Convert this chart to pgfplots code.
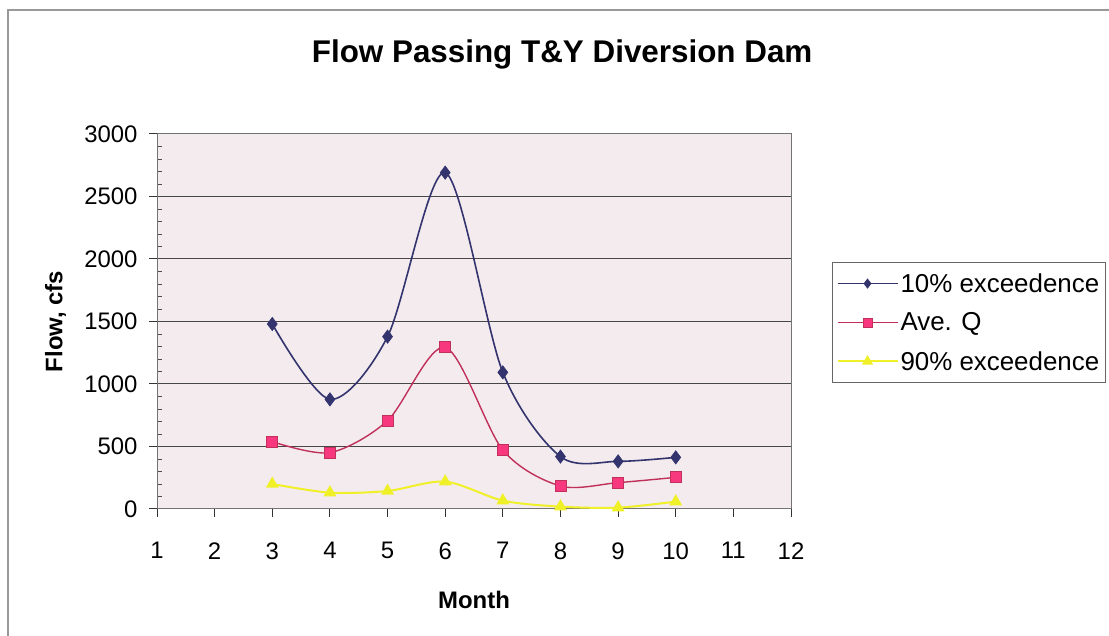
\documentclass[border=0pt]{standalone}
\usepackage{pgfplots}
\pgfplotsset{compat=1.18}
\usepackage{fontspec}
\setmainfont{Liberation Sans}
\definecolor{navyline}{HTML}{33336E}
\definecolor{pinkline}{HTML}{C0305A}
\definecolor{pinkfill}{HTML}{F8387E}
\definecolor{yel}{HTML}{F0F028}
\definecolor{bgpink}{HTML}{F3EBEE}
\begin{document}
\begin{tikzpicture}[x=1bp,y=1bp]
\path[use as bounding box] (0,0) rectangle (1109,636);
\draw[gray!80, line width=2bp] (8,0) -- (8,626) -- (1109,626);
\begin{axis}[
  at={(157bp,127bp)}, anchor=south west,
  scale only axis, width=634bp, height=375bp,
  xmin=1, xmax=12, ymin=0, ymax=3000,
  xtick={1,...,12}, ytick={0,500,...,3000},
  /pgf/number format/assume math mode=true,
  /pgf/number format/1000 sep={},
  minor y tick num=4,
  tick pos=left, tick align=outside,
  major tick length=8bp, minor tick length=5bp,
  minor y tick style={xshift=5bp, black!70},
  major tick style={black!80, line width=1bp},
  ymajorgrids, major grid style={black!72, line width=1bp},
  axis line style={black!55, line width=1bp},
  axis background/.style={fill=bgpink},
  tick label style={font=\fontsize{24}{28}\selectfont},
  yticklabel style={xshift=-8bp},
  xticklabel style={yshift=-22bp},
  title={\textbf{Flow Passing T\&Y Diversion Dam}},
  title style={font=\fontsize{31.5}{36}\selectfont, at={(axis description cs:0.639,1.195)}, anchor=center},
  xlabel={\textbf{Month}},
  ylabel={\textbf{Flow, cfs}},
  xlabel style={font=\fontsize{24}{28}\selectfont, at={(axis description cs:0.5,-0.243)}, anchor=center},
  ylabel style={font=\fontsize{24}{28}\selectfont, at={(axis description cs:-0.16,0.5)}, anchor=center},
  legend style={at={(axis description cs:1.0647,0.6587)}, anchor=north west,
    draw=black!60, line width=1bp, fill=white,
    font=\fontsize{26}{30}\selectfont, row sep=15bp, inner xsep=4bp, inner ysep=9bp},
  legend cell align=left,
  legend image code/.code={\draw[mark repeat=2,mark phase=2,mark size=4.5bp] plot coordinates {(0bp,0bp) (30bp,0bp) (60bp,0bp)};},
]
\addplot[navyline, line width=1.6bp, smooth, tension=0.5, mark=diamond*, mark size=6.5bp, mark options={fill=navyline, line width=0.8bp}]
 coordinates {(3,1480) (4,877) (5,1379) (6,2691) (7,1093) (8,419) (9,381) (10,413)};
\addlegendentry{10\% exceedence}
\addplot[pinkline, line width=1.4bp, smooth, tension=0.5, mark=square*, mark size=5.5bp, mark options={fill=pinkfill, draw=pinkline, line width=0.8bp}]
 coordinates {(3,539) (4,451) (5,707) (6,1293) (7,472) (8,184) (9,211) (10,253)};
\addlegendentry{Ave. Q}
\addplot[yel, line width=2bp, smooth, tension=0.5, mark=triangle*, mark size=5.5bp, mark options={fill=yel, draw=yel}]
 coordinates {(3,200) (4,131) (5,144) (6,219) (7,67) (8,19) (9,11) (10,59)};
\addlegendentry{90\% exceedence}
\end{axis}
\end{tikzpicture}
\end{document}
